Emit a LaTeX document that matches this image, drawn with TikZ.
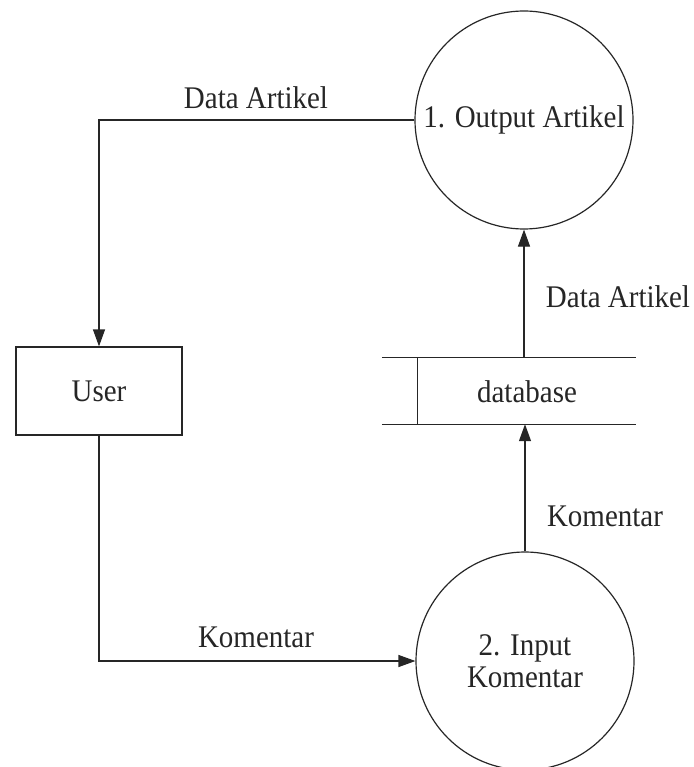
\documentclass[tikz,border=0pt]{standalone}
\usepackage{fontspec}
\setmainfont{Liberation Serif}[FakeStretch=0.92]
\usetikzlibrary{arrows.meta}
\begin{document}
\begin{tikzpicture}[x=1pt,y=-1pt,
  every node/.style={font=\fontsize{31.5}{32}\selectfont, text=black!85},
  line/.style={draw=black!85, line width=1.2pt},
  flow/.style={line, -{Triangle[length=17pt,width=12pt]}},
  process/.style={line, circle, minimum size=218pt, inner sep=0pt, align=center},
  entity/.style={line, rectangle, minimum width=166pt, minimum height=88pt, inner sep=0pt},
  store/.style={rectangle, minimum width=254pt, minimum height=66pt, inner sep=0pt},
  flowlabel/.style={inner sep=0pt}]
  \useasboundingbox (0,0) rectangle (693,767);

  % processes, entity and data store
  \node[process] (p1) at (524,120) {1. Output Artikel};
  \node[process] (p2) at (525,661) {2. Input\\Komentar};
  \node[entity] (user) at (99,391) {User};
  \node[store] (db) at (509,391) {};
  \draw[line] (db.north west) -- (db.north east);
  \draw[line] (db.south west) -- (db.south east);
  \draw[line] ([xshift=36pt]db.north west) -- ([xshift=36pt]db.south west);
  \node[flowlabel] (dbtext) at (527,392) {database};

  % data flows
  \draw[flow] (p1.west) -| (user.north);
  \draw[flow] (user.south) |- (p2.west);
  \draw[flow] (p2.north) -- (p2.north |- db.south);
  \draw[flow] (db.north -| p1.south) -- (p1.south);

  % flow labels
  \node[flowlabel] (l1) at (256,98) {Data Artikel};
  \node[flowlabel] (l2) at (618,297) {Data Artikel};
  \node[flowlabel] (l3) at (605,516) {Komentar};
  \node[flowlabel] (l4) at (256,637) {Komentar};
\end{tikzpicture}
\end{document}
